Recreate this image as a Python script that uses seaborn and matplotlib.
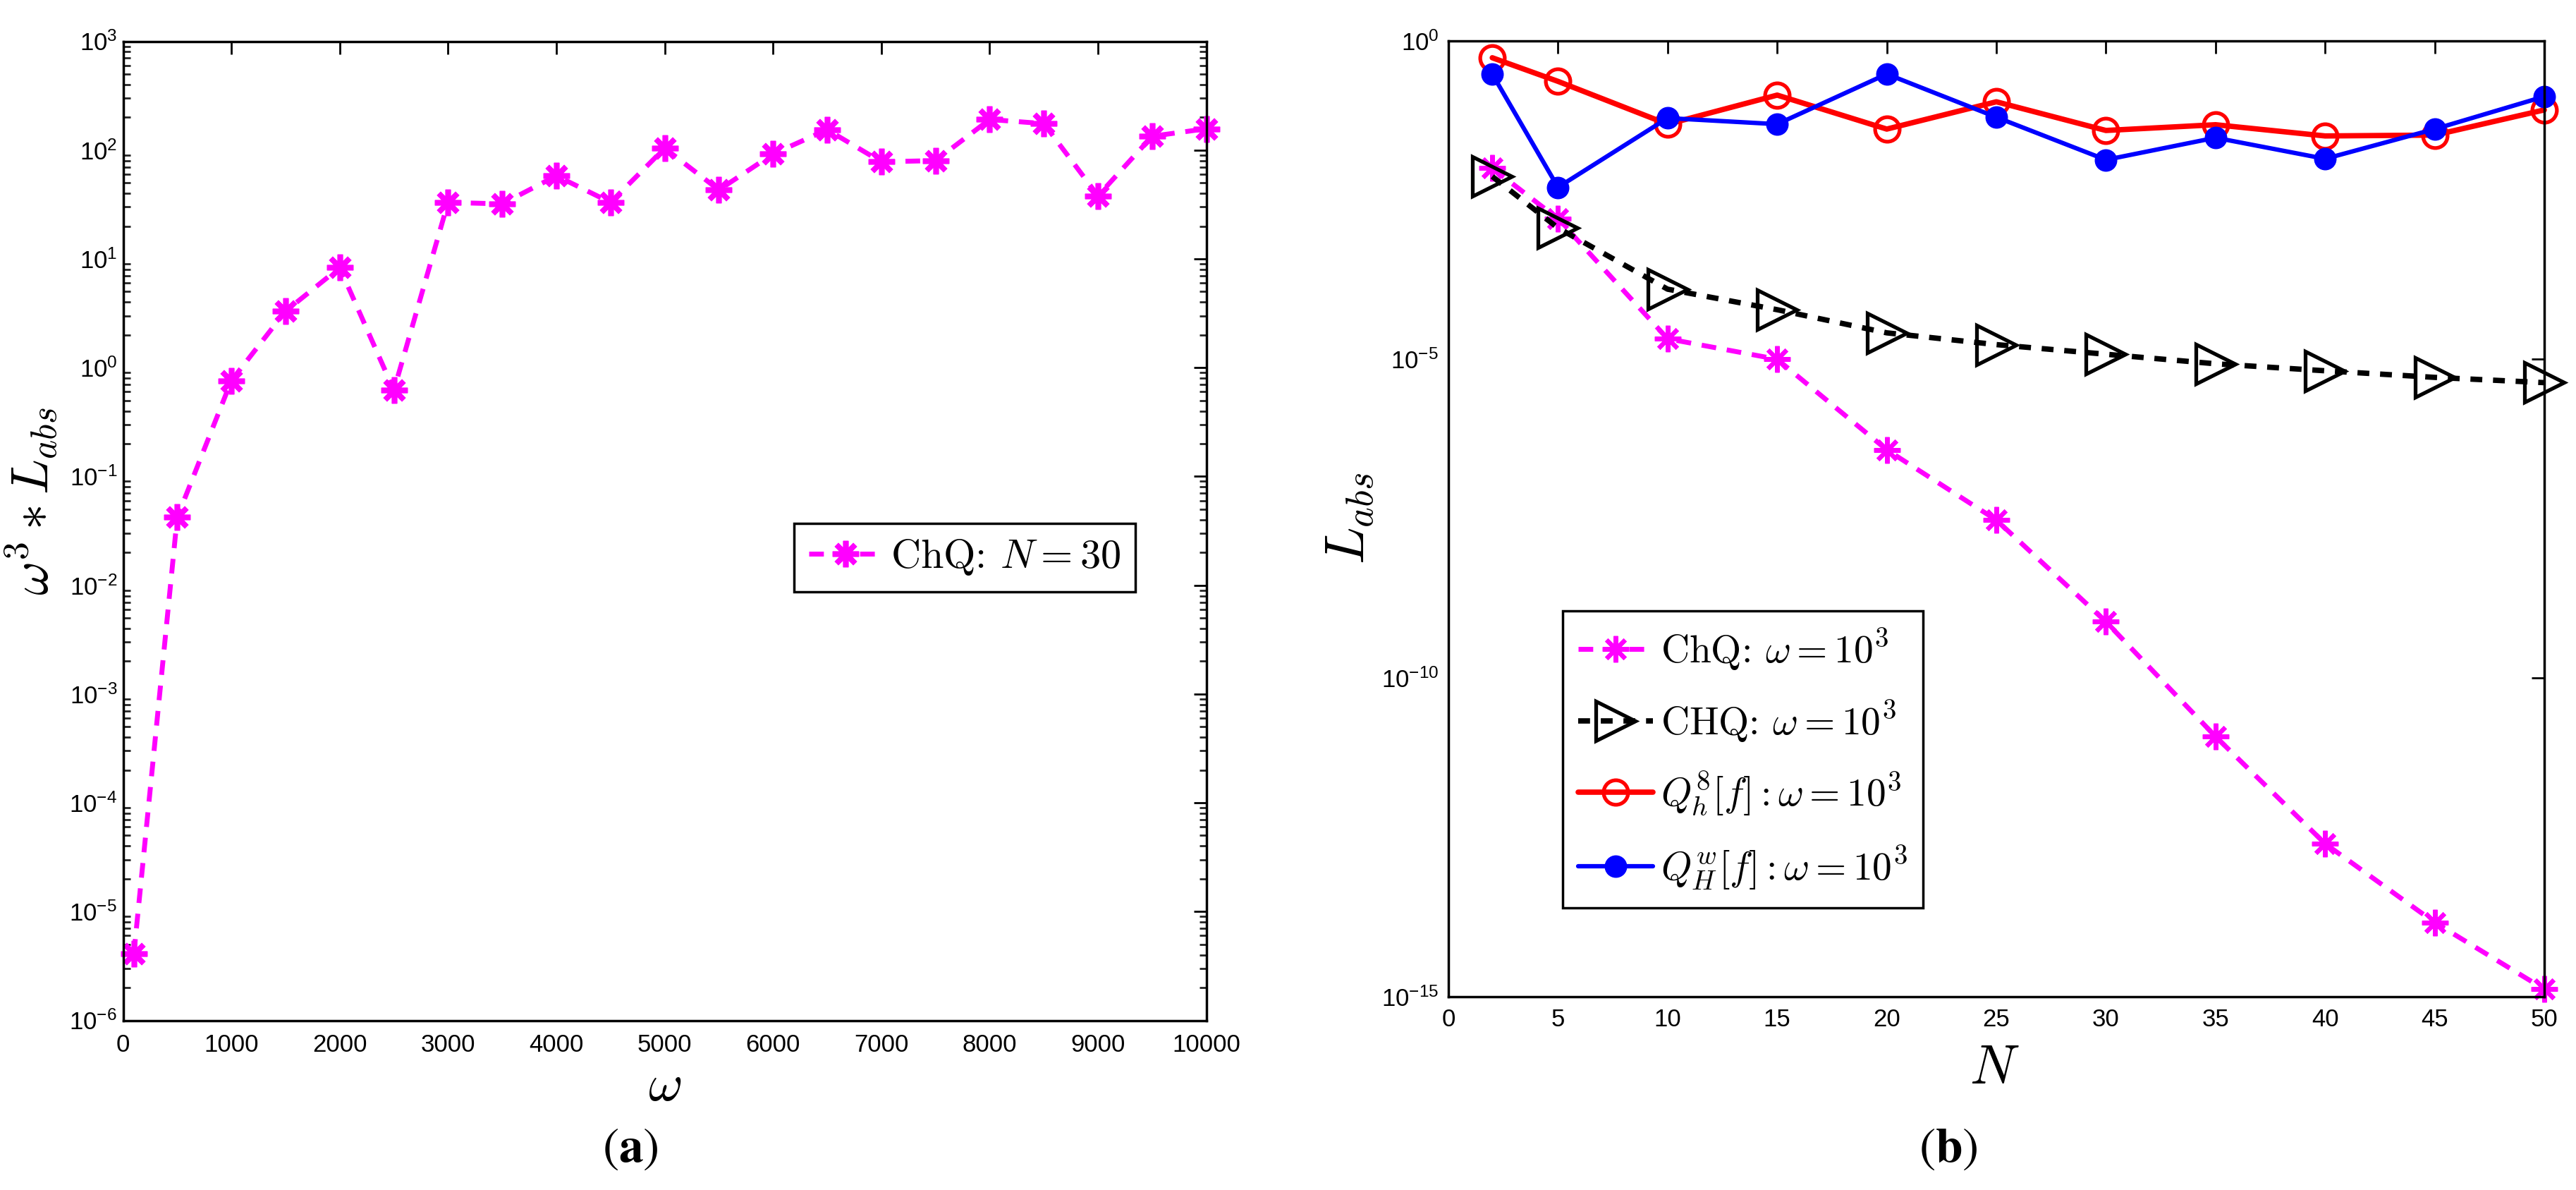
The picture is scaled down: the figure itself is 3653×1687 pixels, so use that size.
import numpy as np
import matplotlib
matplotlib.use('Agg')
import matplotlib.pyplot as plt
from matplotlib import font_manager
from matplotlib.ticker import FixedLocator, LogFormatterSciNotation, NullFormatter
import seaborn as sns

# panel (a): scaled error vs omega, N = 30
OMEGA = [100, 500, 1000, 1500, 2000, 2500, 3000, 3500, 4000, 4500, 5000,
         5500, 6000, 6500, 7000, 7500, 8000, 8500, 9000, 9500, 10000]
SCALED_ERR = [4.1e-6, 0.042, 0.76, 3.3, 8.3, 0.62, 33, 32, 58, 33, 104,
              43, 92, 154, 78, 80, 191, 175, 38, 134, 157]

# panel (b): absolute error vs N, omega = 1e3
N_VALUES = [2, 5, 10, 15, 20, 25, 30, 35, 40, 45, 50]
CHQ = [1.0e-2, 1.6e-3, 2.1e-5, 1.0e-5, 3.8e-7, 3.0e-8, 7.6e-10, 1.2e-11, 2.5e-13, 1.45e-14, 1.3e-15]
CHQ_UPPER = [7.4e-3, 1.15e-3, 1.26e-4, 6.0e-5, 2.6e-5, 1.7e-5, 1.2e-5, 8.5e-6, 6.6e-6, 5.2e-6, 4.3e-6]
QH8 = [0.54, 0.23, 0.049, 0.14, 0.041, 0.11, 0.039, 0.048, 0.032, 0.033, 0.082]
QHW = [0.30, 0.005, 0.061, 0.049, 0.30, 0.063, 0.0135, 0.030, 0.014, 0.041, 0.133]

LEGEND_A = ['ChQ: $N = 30$']
LEGEND_B = [r'ChQ: $\omega = 10^3$',
            r'CHQ: $\omega = 10^3$',
            r'$Q_h^8[f] : \omega = 10^3$',
            r'$Q_H^w[f] : \omega = 10^3$']

sns.set_theme(style='white')
plt.rcParams['font.family'] = ['Liberation Sans', 'DejaVu Sans']
plt.rcParams['mathtext.fontset'] = 'cm'
plt.rcParams['text.color'] = 'black'
plt.rcParams['axes.edgecolor'] = 'black'
plt.rcParams['axes.linewidth'] = 2.5

ASTERISK = (8, 2, 0)

fig = plt.figure(figsize=(36.53, 16.87), dpi=100)
ax1 = fig.add_axes([0.04777, 0.14256, 0.42053, 0.82276])
ax2 = fig.add_axes([0.56228, 0.16265, 0.4254, 0.80315])

# ---- (a)
sns.lineplot(x=OMEGA, y=SCALED_ERR, ax=ax1, color='magenta', linewidth=5,
             linestyle=(0, (3, 2.2)), marker=ASTERISK, markersize=27,
             markeredgewidth=5.5, markeredgecolor='magenta', clip_on=False,
             label=LEGEND_A[0])
ax1.set_yscale('log')
ax1.set_xlim(0, 10000)
ax1.set_ylim(1e-6, 1e3)
ax1.xaxis.set_major_locator(FixedLocator(np.arange(0, 10001, 1000)))
ax1.yaxis.set_major_locator(FixedLocator(10.0 ** np.arange(-6, 4)))
ax1.yaxis.set_major_formatter(LogFormatterSciNotation())
minors = [m * 10.0 ** e for e in range(-6, 3) for m in range(2, 10)]
ax1.yaxis.set_minor_locator(FixedLocator(minors))
ax1.yaxis.set_minor_formatter(NullFormatter())
ax1.tick_params(axis='both', which='major', direction='in', length=13, width=2,
                top=True, right=True, labelsize=25, colors='black')
ax1.tick_params(axis='x', which='major', pad=13)
ax1.tick_params(axis='y', which='major', pad=6)
ax1.tick_params(axis='y', which='minor', direction='in', length=7, width=2,
                left=True, right=True)
ax1.set_xlabel(r'$\omega$', fontsize=54, color='black')
ax1.set_ylabel(r'$\omega^3 \ast L_{abs}$', fontsize=53, color='black')
ax1.xaxis.set_label_coords(0.5, -0.043)
ax1.yaxis.set_label_coords(-0.058, 0.53)
leg1 = ax1.legend(loc='upper left', bbox_to_anchor=(0.6195, 0.5076), borderaxespad=0,
                  prop=font_manager.FontProperties(family='cmr10', size=42),
                  frameon=True, fancybox=False, edgecolor='black',
                  handlelength=1.8, handletextpad=0.2, borderpad=0.35, framealpha=1)
leg1.get_frame().set_linewidth(2.5)

# ---- (b)
sns.lineplot(x=N_VALUES, y=CHQ, ax=ax2, color='magenta', linewidth=5,
             linestyle=(0, (3, 2.2)), marker=ASTERISK, markersize=27,
             markeredgewidth=4.5, markeredgecolor='magenta', clip_on=False,
             label=LEGEND_B[0])
sns.lineplot(x=N_VALUES, y=CHQ_UPPER, ax=ax2, color='black', linewidth=5.5,
             linestyle=(0, (2.2, 2.0)), marker='>', markersize=40,
             markeredgewidth=3.8, markeredgecolor='black', markerfacecolor='none',
             clip_on=False, label=LEGEND_B[1])
sns.lineplot(x=N_VALUES, y=QH8, ax=ax2, color='red', linewidth=5.5,
             linestyle='-', marker='o', markersize=25, markeredgewidth=3.8,
             markeredgecolor='red', markerfacecolor='none', clip_on=False,
             label=LEGEND_B[2])
sns.lineplot(x=N_VALUES, y=QHW, ax=ax2, color='blue', linewidth=4.5,
             linestyle='-', marker='o', markersize=22, markeredgewidth=1,
             markeredgecolor='blue', markerfacecolor='blue', clip_on=False,
             label=LEGEND_B[3])
ax2.set_yscale('log')
ax2.set_xlim(0, 50)
ax2.set_ylim(1e-15, 1)
ax2.xaxis.set_major_locator(FixedLocator(np.arange(0, 51, 5)))
ax2.yaxis.set_major_locator(FixedLocator([1e-15, 1e-10, 1e-5, 1e0]))
ax2.yaxis.set_major_formatter(LogFormatterSciNotation())
ax2.yaxis.set_minor_locator(FixedLocator([]))
ax2.tick_params(axis='both', which='major', direction='in', length=13, width=2,
                top=True, right=True, labelsize=25, colors='black')
ax2.tick_params(axis='x', which='major', pad=12)
ax2.tick_params(axis='y', which='major', pad=10)
ax2.set_xlabel(r'$N$', fontsize=56, color='black')
ax2.set_ylabel(r'$L_{abs}$', fontsize=56, color='black')
ax2.xaxis.set_label_coords(0.498, -0.049)
ax2.yaxis.set_label_coords(-0.066, 0.5)
leg2 = ax2.legend(loc='upper left', bbox_to_anchor=(0.1042, 0.4034), borderaxespad=0,
                  prop=font_manager.FontProperties(family='cmr10', size=40),
                  frameon=True, fancybox=False, edgecolor='black',
                  handlelength=1.9, handletextpad=0.2, borderpad=0.4,
                  labelspacing=0.65, framealpha=1)
leg2.get_frame().set_linewidth(2.5)

for ax in (ax1, ax2):
    for sp in ax.spines.values():
        sp.set_visible(True)
        sp.set_color('black')
        sp.set_linewidth(2.5)

fig.text(894 / 3653, 1 - 1629 / 1687, r'$(\mathbf{a})$', fontsize=50,
         ha='center', va='center', math_fontfamily='stix')
fig.text(2763 / 3653, 1 - 1629 / 1687, r'$(\mathbf{b})$', fontsize=50,
         ha='center', va='center', math_fontfamily='stix')

fig.savefig('out.png', dpi=100, facecolor='white')
